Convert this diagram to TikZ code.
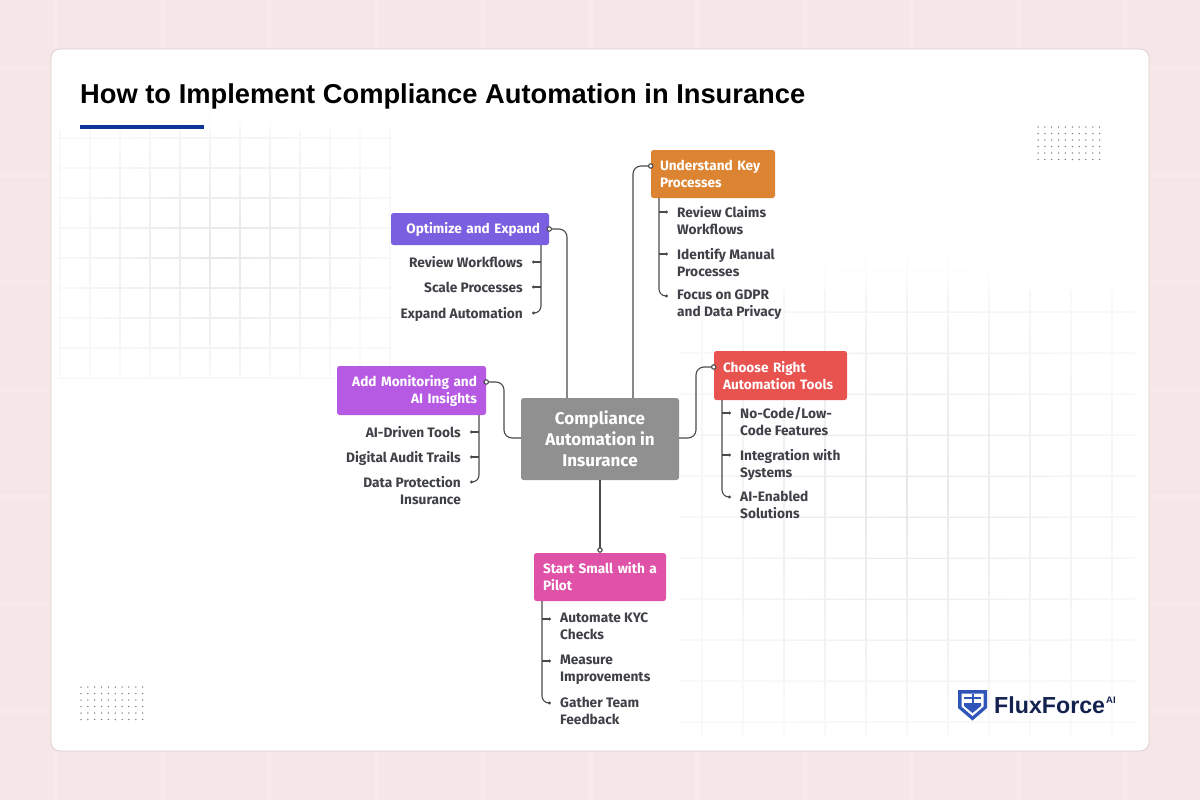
\documentclass[tikz,border=0pt]{standalone}
\usepackage{fontspec}
\setmainfont{Liberation Sans}
\newfontfamily\labelfont{Fira Sans}
\usetikzlibrary{arrows.meta,positioning,fadings}
\definecolor{pagepink}{HTML}{F6E6E7}
\definecolor{pinkline}{HTML}{F8EAEB}
\definecolor{gridline}{HTML}{E6E6E8}
\definecolor{gridpale}{HTML}{F9F9FA}
\definecolor{cardline}{HTML}{DCCFD1}
\definecolor{textgrey}{HTML}{3F4147}
\definecolor{connline}{HTML}{4A4A4E}
\definecolor{navy}{HTML}{14224F}
\definecolor{logoblue}{HTML}{2F55B8}
\definecolor{barblue}{HTML}{0B3596}
\definecolor{corefill}{HTML}{909090}
\definecolor{optfill}{HTML}{7A5FE0}
\definecolor{keyfill}{HTML}{DD8432}
\definecolor{toolfill}{HTML}{E8524F}
\definecolor{pilotfill}{HTML}{E052A8}
\definecolor{aifill}{HTML}{B65AE4}
\tikzfading[name=softgrid,inner color=transparent!10,outer color=transparent!100]
\tikzset{
  box/.style={rounded corners=2.5pt,inner sep=0pt,text=white,font=\labelfont\bfseries\fontsize{13.6}{17}\selectfont},
  item/.style={inner sep=0pt,text=textgrey,font=\labelfont\bfseries\fontsize{13.7}{17}\selectfont},
  leftitem/.style={item,anchor=north west,align=left},
  rightitem/.style={item,anchor=north east,align=right},
  conn/.style={draw=connline,line width=1.1pt,rounded corners=8pt},
  mainconn/.style={conn,{Circle[open,fill=white,length=5.5pt,width=5.5pt]}-},
  branch/.style={draw=connline,line width=1.1pt,rounded corners=7pt,-{Circle[length=3pt,width=3pt]}}
}
\begin{document}
\begin{tikzpicture}[x=1pt,y=-1pt]
\useasboundingbox (0,0) rectangle (1200,800);
\fill[pagepink] (0,0) rectangle (1200,800);
% page grid
\foreach \x in {55,162,...,1190} {
  \draw[pinkline,line width=5pt] (\x,0) -- (\x,48);
  \draw[pinkline,line width=5pt] (\x,752) -- (\x,800);
}
\foreach \y in {68,175,...,790} {
  \draw[pinkline,line width=5pt] (0,\y) -- (50,\y);
  \draw[pinkline,line width=5pt] (1150,\y) -- (1200,\y);
}
% card
\node[draw=cardline,fill=white,rounded corners=9pt,line width=.8pt,minimum width=1098pt,minimum height=702pt,inner sep=0pt] (card) at (600,400) {};
% card grid
\draw[gridpale,line width=1.2pt]
  \foreach \x in {60,90,...,390} {(\x,130) -- (\x,375)}
  \foreach \y in {138,168,...,378} {(58,\y) -- (392,\y)};
\draw[gridline,line width=1.2pt,path fading=softgrid]
  \foreach \x in {60,90,...,390} {(\x,110) -- (\x,390)}
  \foreach \y in {108,138,...,378} {(55,\y) -- (395,\y)};
\draw[gridpale,line width=1.5pt]
  \foreach \x in {702,743,...,1130} {(\x,290) -- (\x,735)}
  \foreach \y in {312,353,...,735} {(680,\y) -- (1135,\y)};
\draw[gridline,line width=1.5pt,path fading=softgrid]
  \foreach \x in {702,743,...,1130} {(\x,240) -- (\x,745)}
  \foreach \y in {271,312,...,735} {(665,\y) -- (1145,\y)};
% dots
\foreach \x in {0,...,9} \foreach \y in {0,...,5} {
  \fill[gray!90!black] (1038+\x*6.85,127+\y*6.5) circle (.75pt);
  \fill[gray!90!black] (81+\x*6.85,687+\y*6.5) circle (.75pt);
}
% title
\node[anchor=west,inner sep=0pt,text=black,font=\bfseries\fontsize{27.3}{32}\selectfont] (title) at (80,96) {How to Implement Compliance Automation in Insurance};
\fill[barblue] (80,125) rectangle (204,128.5);
% boxes
\node[box,fill=corefill,minimum width=158pt,minimum height=82pt,align=center,font=\labelfont\bfseries\fontsize{17}{21}\selectfont] (core) at (600,439) {Compliance\\Automation in\\Insurance};
\node[box,fill=optfill,minimum width=158pt,minimum height=32pt,align=right,text width=140pt] (opt) at (470,229) {Optimize and Expand};
\node[box,fill=keyfill,minimum width=124pt,minimum height=48pt,align=left,text width=106pt] (key) at (713,174) {Understand Key\\Processes};
\node[box,fill=toolfill,minimum width=133pt,minimum height=49pt,align=left,text width=115pt] (tool) at (780.5,375.5) {Choose Right\\Automation Tools};
\node[box,fill=pilotfill,minimum width=132pt,minimum height=48pt,align=left,text width=114pt] (pilot) at (600,577) {\mbox{Start Small with a}\\Pilot};
\node[box,fill=aifill,minimum width=149pt,minimum height=49pt,align=right,text width=131pt] (ai) at (411.5,390.5) {Add Monitoring and\\AI Insights};
% items left side
\node[rightitem] (opt1) at (523,256) {Review Workflows};
\node[rightitem] (opt2) at (523,281.5) {Scale Processes};
\node[rightitem] (opt3) at (523,307) {Expand Automation};
\node[rightitem] (ai1) at (461,426) {AI-Driven Tools};
\node[rightitem] (ai2) at (461,451) {Digital Audit Trails};
\node[rightitem] (ai3) at (461,476) {Data Protection\\Insurance};
% items right side
\node[leftitem] (key1) at (677,206) {Review Claims\\Workflows};
\node[leftitem] (key2) at (677,248) {Identify Manual\\Processes};
\node[leftitem] (key3) at (677,290) {Focus on GDPR\\and Data Privacy};
\node[leftitem] (tool1) at (740,407) {No-Code/Low-\\Code Features};
\node[leftitem] (tool2) at (740,449) {Integration with\\Systems};
\node[leftitem] (tool3) at (740,491) {AI-Enabled\\Solutions};
\node[leftitem] (pilot1) at (560,613) {Automate KYC\\Checks};
\node[leftitem] (pilot2) at (560,655) {Measure\\Improvements};
\node[leftitem] (pilot3) at (560,697) {Gather Team\\Feedback};
% connector ends
\coordinate (optdot) at (546.5,229);
\coordinate (keydot) at (653.5,166);
\coordinate (tooldot) at (716.5,367);
\coordinate (aidot) at (483.5,382);
\coordinate (optin) at (567,398);
\coordinate (keyin) at (633,398);
\coordinate (corel) at (521,438);
\coordinate (corer) at (679,438);
\coordinate (opttrunk) at (541,245);
\coordinate (aitrunk) at (479,415);
\coordinate (keytrunk) at (659,198);
\coordinate (tooltrunk) at (722,400);
\coordinate (pilottrunk) at (542,601);
\foreach \n/\x/\y in {opt1/532/262,opt2/532/287,opt3/532/313,ai1/470/432,ai2/470/457,ai3/470/482,
  key1/668/212,key2/668/254,key3/668/296,tool1/731/413,tool2/731/455,tool3/731/497,
  pilot1/551/619,pilot2/551/661,pilot3/551/703}
  \coordinate (\n-end) at (\x,\y);
% main connectors
\draw[mainconn] (optdot) -| (optin);
\draw[mainconn] (keydot) -| (keyin);
\draw[mainconn] (tooldot) -- (696,367) -- (696,438) -- (corer);
\draw[mainconn] (aidot) -- (504,382) -- (504,438) -- (corel);
\draw[mainconn] (pilot.north) -- (core.south);
% branches
\foreach \n in {opt1,opt2} \draw[branch] (opttrunk |- \n-end) -- (\n-end);
\draw[branch] (opttrunk) |- (opt3-end);
\foreach \n in {ai1,ai2} \draw[branch] (aitrunk |- \n-end) -- (\n-end);
\draw[branch] (aitrunk) |- (ai3-end);
\foreach \n in {key1,key2} \draw[branch] (keytrunk |- \n-end) -- (\n-end);
\draw[branch] (keytrunk) |- (key3-end);
\foreach \n in {tool1,tool2} \draw[branch] (tooltrunk |- \n-end) -- (\n-end);
\draw[branch] (tooltrunk) |- (tool3-end);
\foreach \n in {pilot1,pilot2} \draw[branch] (pilottrunk |- \n-end) -- (\n-end);
\draw[branch] (pilottrunk) |- (pilot3-end);
% logo
\fill[logoblue] (958,690) -- (987,690) -- (987,708) -- (972.5,720.5) -- (958,708) -- cycle;
\fill[white] (961.5,693.5) -- (983.5,693.5) -- (983.5,706.5) -- (972.5,716) -- (961.5,706.5) -- cycle;
\fill[logoblue] (964,703) -- (981,703) -- (981,706) -- (972.5,713) -- (964,706) -- cycle;
\fill[logoblue] (964,697) rectangle (981,699);
\fill[logoblue] (971.5,693.5) rectangle (973.5,703);
\node[anchor=west,inner sep=0pt,text=navy,font=\bfseries\fontsize{23.2}{28}\selectfont] (brand) at (994,705.5) {FluxForce};
\node[anchor=west,inner sep=0pt,text=navy,font=\bfseries\fontsize{9.5}{10}\selectfont] (brandai) at (1106,700.5) {AI};
\end{tikzpicture}
\end{document}
